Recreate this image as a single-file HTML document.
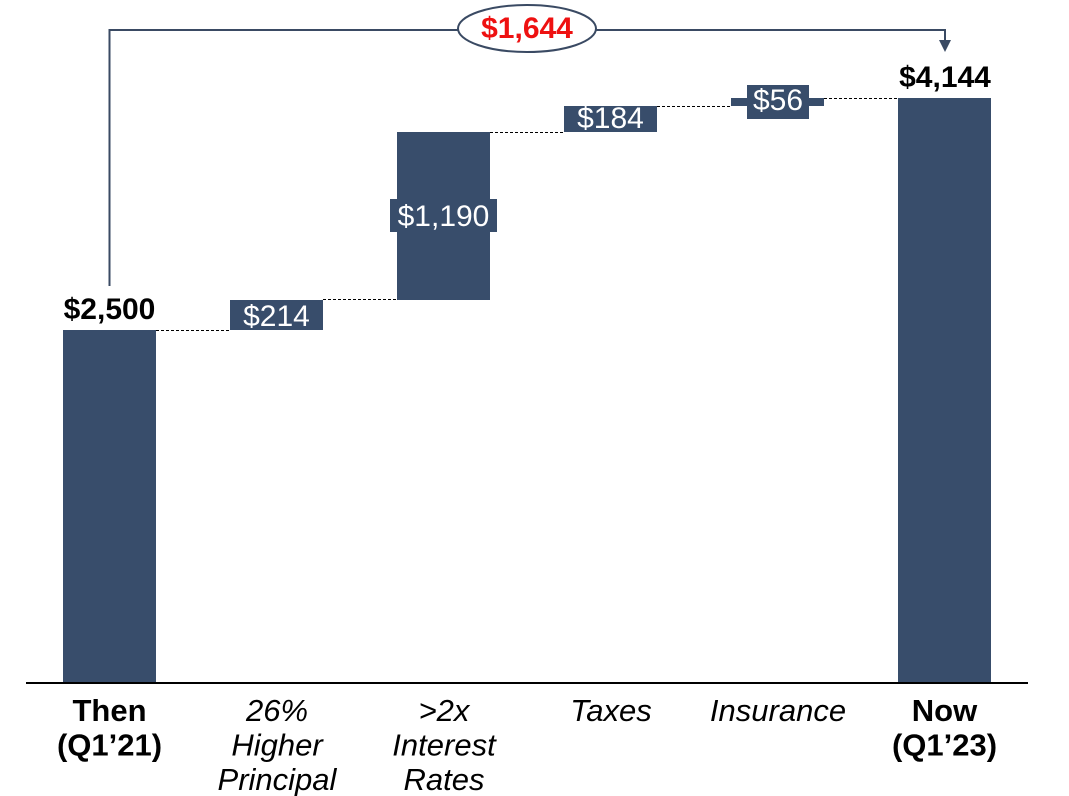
<!DOCTYPE html>
<html>
<head>
<meta charset="utf-8">
<style>
  html, body { margin: 0; padding: 0; background: #ffffff; }
  svg { display: block; }
  text { font-family: "Liberation Sans", Arial, sans-serif; }
</style>
</head>
<body>
<svg width="1069" height="796" viewBox="0 0 1069 796" xmlns="http://www.w3.org/2000/svg">
  <rect x="0" y="0" width="1069" height="796" fill="#ffffff"/>

  <!-- dashed connectors -->
  <g stroke="#000" stroke-width="1" stroke-dasharray="3,2" fill="none">
    <line x1="156" y1="330.5" x2="230" y2="330.5"/>
    <line x1="323" y1="299.5" x2="397" y2="299.5"/>
    <line x1="490" y1="132.5" x2="564" y2="132.5"/>
    <line x1="657" y1="106.5" x2="731" y2="106.5"/>
    <line x1="824" y1="98.5" x2="898" y2="98.5"/>
  </g>

  <!-- bars -->
  <g fill="#384d6b">
    <rect x="63" y="330" width="93" height="353"/>
    <rect x="230" y="300" width="93" height="30"/>
    <rect x="397" y="132" width="93" height="168"/>
    <rect x="564" y="106" width="93" height="26"/>
    <rect x="731" y="98" width="93" height="8"/>
    <rect x="898" y="98" width="93" height="585"/>
    <!-- label boxes -->
    <rect x="390" y="199" width="107" height="33"/>
    <rect x="747" y="85" width="62" height="34"/>
  </g>

  <!-- axis -->
  <line x1="26" y1="683" x2="1028" y2="683" stroke="#000" stroke-width="2"/>

  <!-- bar value labels -->
  <g fill="#ffffff" font-size="30" text-anchor="middle">
    <text x="276.5" y="326">$214</text>
    <text x="443.5" y="226">$1,190</text>
    <text x="610.5" y="128">$184</text>
    <text x="778" y="110">$56</text>
  </g>

  <g fill="#000" font-size="30" font-weight="bold" text-anchor="middle">
    <text x="109.5" y="319">$2,500</text>
    <text x="945" y="87">$4,144</text>
  </g>

  <!-- bracket arrow -->
  <g stroke="#3a4a63" stroke-width="2" fill="none">
    <polyline points="109.5,286 109.5,30 945,30 945,41"/>
  </g>
  <polygon points="939,40 951,40 945,52" fill="#3a4a63"/>
  <ellipse cx="527" cy="28.5" rx="69" ry="23.5" fill="#ffffff" stroke="#3a4a63" stroke-width="2"/>
  <text x="527" y="38" fill="#ee1111" font-size="30" font-weight="bold" text-anchor="middle">$1,644</text>

  <!-- category labels -->
  <g fill="#000" font-size="31" text-anchor="middle">
    <g font-weight="bold">
      <text x="109.5" y="721">Then</text>
      <text x="109.5" y="755.5">(Q1’21)</text>
      <text x="944.5" y="721">Now</text>
      <text x="944.5" y="755.5">(Q1’23)</text>
    </g>
    <g font-style="italic">
      <text x="277" y="721">26%</text>
      <text x="277" y="755.5">Higher</text>
      <text x="277" y="790">Principal</text>
      <text x="444" y="721">&gt;2x</text>
      <text x="444" y="755.5">Interest</text>
      <text x="444" y="790">Rates</text>
      <text x="611" y="721">Taxes</text>
      <text x="778" y="721">Insurance</text>
    </g>
  </g>
</svg>
</body>
</html>
